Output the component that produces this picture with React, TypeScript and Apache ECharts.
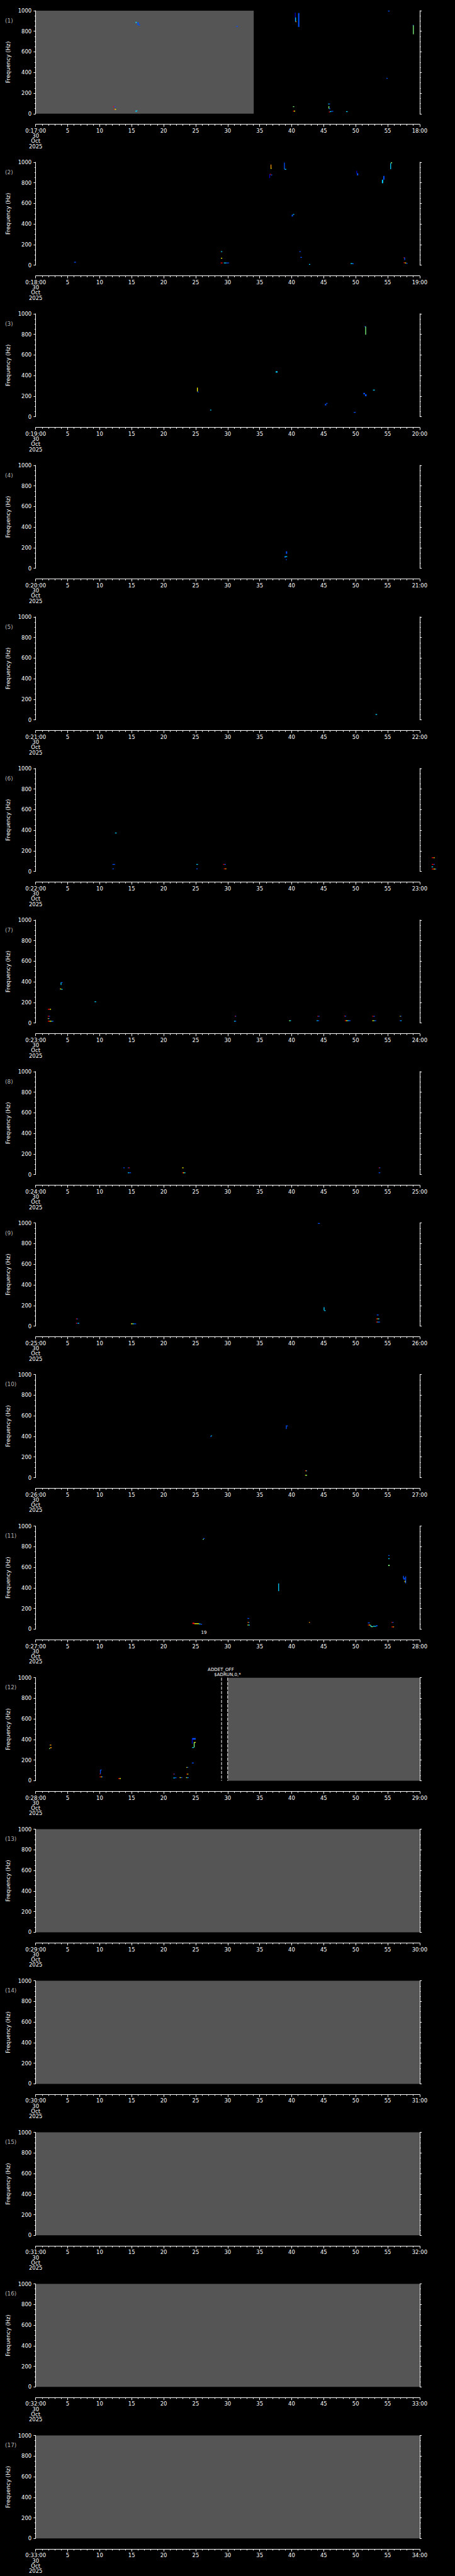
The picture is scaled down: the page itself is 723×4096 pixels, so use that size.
import React, { useEffect, useRef } from 'react';
import * as echarts from 'echarts';

// ---------- data ----------
const START_LABELS = ['0:17:00','0:18:00','0:19:00','0:20:00','0:21:00','0:22:00','0:23:00','0:24:00','0:25:00','0:26:00','0:27:00','0:28:00','0:29:00','0:30:00','0:31:00','0:32:00','0:33:00'];
const END_LABELS = ['18:00','19:00','20:00','21:00','22:00','23:00','24:00','25:00','26:00','27:00','28:00','29:00','30:00','31:00','32:00','33:00','34:00'];
const DATE_LINES = ['30', 'Oct', '2025'];
const PANEL_NAMES = ['(1)','(2)','(3)','(4)','(5)','(6)','(7)','(8)','(9)','(10)','(11)','(12)','(13)','(14)','(15)','(16)','(17)'];
const Y_TITLE = 'Frequency (Hz)';

// spectral patches: [minuteStart, minuteEnd, freqLow, freqHigh, colourKey]
type Ev = [number, number, number, number, string];
const P1: Ev[] = [
  [15.6,15.8,880,891,'c'],[15.9,16.1,859,888,'b'],[16.1,16.3,855,866,'b'],
  [31.35,31.6,846,851,'b'],
  [12.1,12.3,67,72,'r'],[12.3,12.5,67,72,'b'],
  [12.2,12.35,41,46,'r'],[12.35,12.55,41,46,'y'],
  [15.6,15.75,17,30,'c'],[15.75,15.9,27,32,'c'],
  [40.5,40.58,895,980,'B'],[40.55,40.65,895,934,'c'],[40.6,40.75,891,896,'o'],
  [41.0,41.2,842,977,'b'],
  [40.2,40.4,67,72,'g'],
  [40.2,40.35,24,29,'r'],[40.35,40.55,24,29,'y'],
  [45.7,45.85,93,98,'c'],[45.85,46.0,93,98,'b'],
  [45.75,45.85,49,73,'g'],[45.85,46.05,47,52,'b'],
  [45.8,45.95,15,20,'r'],[45.95,46.2,18,24,'c'],[46.2,46.5,22,27,'b'],
  [48.5,48.75,19,24,'c'],
  [55.05,55.3,995,1000,'b'],
  [54.8,55.0,342,347,'b'],
  [58.9,59.05,855,862,'b'],[58.95,59.05,770,858,'g'],
];
const P2: Ev[] = [
  [36.5,36.6,846,884,'B'],[36.6,36.75,880,887,'r'],[36.75,36.95,872,880,'b'],
  [36.7,36.78,941,977,'o'],[36.72,36.82,937,944,'y'],
  [38.8,38.9,932,996,'b'],[38.9,39.15,927,935,'c'],
  [40.0,40.2,473,490,'b'],[40.2,40.4,490,497,'c'],
  [50.1,50.2,890,917,'B'],[50.2,50.4,872,892,'b'],
  [54.1,54.3,796,830,'c'],[54.3,54.5,830,867,'b'],
  [55.4,55.5,932,990,'c'],[55.5,55.7,990,999,'g'],
  [28.95,29.15,130,136,'c'],
  [28.95,29.15,67,72,'y'],
  [28.9,29.2,21,26,'r'],[29.4,29.8,21,26,'c'],[29.8,30.2,21,26,'b'],
  [6.0,6.3,27,33,'b'],
  [41.2,41.4,130,136,'b'],
  [41.35,41.6,76,80,'b'],
  [42.7,42.9,8,12,'c'],
  [49.2,49.5,16,20,'c'],[49.5,49.7,13,19,'b'],
  [57.5,57.6,72,77,'r'],[57.6,57.7,50,75,'b'],
  [57.5,57.7,24,28,'r'],[57.7,57.9,21,26,'y'],[57.9,58.1,16,22,'b'],
];
const P3: Ev[] = [
  [51.4,51.5,870,881,'b'],[51.5,51.6,797,875,'g'],
  [37.5,37.8,429,442,'c'],
  [25.2,25.3,245,283,'y'],[25.3,25.45,238,244,'b'],
  [27.25,27.45,65,69,'c'],
  [45.2,45.4,110,125,'b'],[45.4,45.6,125,134,'b'],
  [51.2,51.45,218,232,'b'],[51.45,51.7,200,218,'b'],
  [52.7,53.0,259,263,'c'],
  [49.7,50.0,43,47,'b'],
];
const P4: Ev[] = [
  [39.1,39.3,141,165,'b'],[38.9,39.3,110,118,'c'],[38.9,39.0,102,112,'b'],[39.1,39.25,84,88,'b'],
];
const P5: Ev[] = [
  [53.1,53.35,52,56,'c'],
];
const P6: Ev[] = [
  [12.4,12.65,373,377,'c'],
  [12.0,12.4,68,72,'b'],
  [12.0,12.2,25,29,'b'],
  [25.1,25.35,68,72,'c'],
  [25.1,25.3,25,29,'b'],
  [29.3,29.5,68,72,'r'],[29.5,29.7,68,72,'b'],
  [29.4,29.6,25,29,'r'],[29.6,29.8,25,29,'o'],
  [61.9,62.2,133,137,'r'],[62.2,62.35,133,137,'y'],
  [61.9,62.2,68,72,'r'],[62.2,62.35,68,72,'b'],
  [61.85,62.1,44,48,'c'],
  [61.9,62.2,23,27,'r'],[62.2,62.45,23,27,'y'],[62.45,62.6,23,27,'b'],
];
const P7: Ev[] = [
  [1.9,2.2,133,137,'r'],[2.2,2.4,133,137,'y'],
  [1.9,2.1,65,69,'r'],[2.1,2.25,65,69,'b'],
  [1.9,2.05,43,47,'y'],[2.05,2.2,43,47,'b'],
  [1.9,2.15,17,21,'r'],[2.15,2.45,17,21,'y'],[2.45,2.6,17,21,'c'],[2.6,2.8,17,21,'b'],
  [3.9,4.0,369,394,'c'],[4.0,4.2,390,396,'b'],
  [3.8,4.0,329,334,'y'],[4.0,4.2,325,330,'c'],
  [9.2,9.45,206,210,'c'],
  [31.1,31.2,65,69,'r'],[31.2,31.3,65,69,'b'],
  [31.0,31.2,17,21,'c'],[31.2,31.3,17,21,'b'],
  [39.6,39.75,22,26,'g'],[39.75,39.9,22,26,'c'],
  [44.0,44.15,65,69,'r'],[44.15,44.35,65,69,'b'],
  [43.9,44.1,22,26,'c'],[44.1,44.3,22,26,'b'],
  [48.2,48.35,66,71,'r'],[48.35,48.5,66,70,'b'],
  [48.3,48.5,22,26,'r'],[48.5,48.7,22,26,'y'],[48.7,48.9,22,26,'c'],[48.9,49.2,22,26,'b'],
  [52.6,52.8,65,69,'r'],[52.8,53.0,65,69,'b'],
  [52.6,52.8,22,26,'y'],[52.8,52.95,22,26,'g'],[52.95,53.2,22,26,'b'],
  [56.9,57.0,65,69,'y'],[57.0,57.15,65,69,'b'],
  [56.9,57.05,22,26,'b'],[57.05,57.15,22,26,'c'],
];
const P8: Ev[] = [
  [13.7,13.9,65,69,'b'],
  [14.4,14.55,65,69,'b'],[14.55,14.7,65,69,'r'],
  [14.4,14.6,17,21,'c'],[14.6,14.9,17,21,'b'],
  [22.9,23.1,65,69,'y'],
  [22.9,23.05,17,21,'r'],[23.05,23.2,17,21,'y'],[23.2,23.4,17,21,'c'],
  [53.6,53.7,65,69,'r'],[53.7,53.85,65,69,'b'],
  [53.6,53.85,17,21,'b'],
];
const P9: Ev[] = [
  [44.1,44.4,994,1000,'b'],
  [45.0,45.1,151,183,'c'],[45.1,45.3,149,154,'c'],
  [6.3,6.45,70,74,'r'],[6.45,6.6,70,74,'b'],
  [6.3,6.45,27,31,'r'],[6.45,6.6,27,31,'b'],[6.6,6.8,27,31,'c'],
  [14.9,15.1,22,26,'y'],[15.1,15.25,22,26,'g'],[15.25,15.4,22,26,'c'],[15.4,15.7,22,26,'b'],
  [53.3,53.6,108,112,'b'],
  [53.2,53.4,70,74,'r'],[53.4,53.5,70,74,'y'],[53.5,53.7,70,74,'c'],
  [53.2,53.4,39,43,'r'],[53.4,53.55,39,43,'c'],[53.55,53.8,39,43,'b'],
];
const P10: Ev[] = [
  [27.3,27.4,394,405,'b'],[27.4,27.5,402,410,'c'],
  [39.1,39.2,471,506,'b'],[39.2,39.4,500,506,'b'],
  [42.1,42.2,66,70,'r'],[42.2,42.3,66,70,'y'],[42.3,42.4,66,70,'b'],
  [42.1,42.25,23,27,'y'],[42.25,42.4,23,27,'g'],
];
const P11: Ev[] = [
  [26.1,26.25,869,876,'g'],[26.2,26.4,876,884,'b'],
  [24.5,24.8,50,63,'r'],[24.8,25.5,53,57,'y'],[25.5,25.75,51,55,'c'],[25.75,26.0,48,52,'b'],
  [33.1,33.35,104,108,'b'],
  [33.1,33.2,66,70,'r'],[33.2,33.3,66,70,'y'],[33.3,33.4,66,70,'b'],
  [33.1,33.25,40,44,'y'],[33.25,33.45,40,44,'c'],
  [37.9,38.0,369,444,'c'],
  [42.7,42.85,66,70,'o'],
  [51.9,52.2,61,65,'b'],
  [51.9,52.1,40,44,'r'],[52.1,52.3,40,44,'y'],
  [52.3,52.45,24,39,'c'],[52.4,52.7,24,28,'g'],
  [52.7,53.2,27,32,'c'],[53.2,53.4,27,39,'b'],
  [55.1,55.3,715,719,'b'],
  [55.1,55.3,681,688,'c'],
  [55.1,55.3,613,625,'g'],
  [55.6,55.75,66,70,'r'],[55.75,55.9,66,70,'b'],
  [55.6,55.8,22,26,'r'],[55.8,56.0,22,26,'o'],
  [57.4,57.5,490,517,'b'],[57.5,57.7,480,500,'b'],[57.65,57.75,455,470,'y'],[57.75,57.85,445,512,'b'],
];
const P12: Ev[] = [
  [2.2,2.45,346,350,'o'],
  [2.1,2.25,309,316,'g'],[2.25,2.5,316,325,'o'],
  [10.05,10.15,65,106,'b'],[10.15,10.3,104,108,'b'],[10.0,10.1,62,68,'r'],
  [10.0,10.2,37,41,'r'],[10.2,10.35,37,41,'y'],[10.35,10.5,37,41,'b'],
  [12.9,13.1,21,25,'r'],[13.1,13.3,21,25,'y'],
  [21.5,21.6,64,68,'r'],[21.6,21.7,64,68,'b'],
  [21.5,21.75,27,31,'c'],[21.75,22.0,28,33,'b'],
  [22.5,22.7,30,34,'y'],[22.7,22.9,30,34,'b'],
  [23.5,23.65,30,34,'y'],[23.65,23.8,30,34,'c'],[23.8,23.9,30,34,'b'],
  [23.55,23.7,128,133,'y'],[23.7,23.85,128,133,'b'],
  [23.55,23.7,64,68,'r'],[23.7,23.85,64,68,'y'],
  [24.4,24.7,172,176,'b'],
  [24.4,24.5,359,414,'B'],[24.5,25.0,399,414,'b'],
  [24.45,24.7,320,326,'c'],[24.7,24.8,323,374,'g'],[24.8,25.0,372,376,'y'],
];
const PANEL_EVENTS: Ev[][] = [P1,P2,P3,P4,P5,P6,P7,P8,P9,P10,P11,P12,[],[],[],[],[]];

// no-data (grey) intervals in minutes, per panel
const NO_DATA: number[][][] = [
  [[0,34.07]],[],[],[],[],[],[],[],[],[],[],[[30.0,60]],
  [[0,60]],[[0,60]],[[0,60]],[[0,60]],[[0,60]],
];
// dashed markers (minutes), per panel
const MARKERS: number[][] = [[],[],[],[],[],[],[],[],[],[],[],[29.04,30.0],[],[],[],[],[]];
const NOTE_19 = '19';
const NOTE_DET = 'ADDET_OFF';
const NOTE_RUN = '$ADRUN,0,*';

const PAL_KEYS = ['B','b','c','g','y','o','r'];
const PAL = ['#0000c8','#0050ff','#00d0ff','#80ff80','#ffff00','#ff9900','#ff0000'];

// ---------- layout (reference px scaled) ----------
const S = 723 / 1024;
const PH = 5802 / 17;
const FONT = 'DejaVu Sans';

function buildOption() {
  const grid: any[] = [];
  const xAxis: any[] = [];
  const yAxis: any[] = [];
  const series: any[] = [];
  const graphic: any[] = [];
  const white = { color: '#ffffff', width: 1 };
  for (let i = 0; i < 17; i++) {
    const top = (i * PH + 24) * S;
    grid.push({ left: 80.3 * S, top, width: 864.2 * S, height: 232 * S });
    const startLbl = START_LABELS[i];
    const endLbl = END_LABELS[i];
    xAxis.push({
      type: 'value', gridIndex: i, min: 0, max: 60, interval: 5, position: 'bottom', offset: 24 * S, z: 5,
      axisLine: { show: true, onZero: false, lineStyle: white },
      axisTick: { show: true, length: 5.5 * S, lineStyle: white },
      minorTick: { show: true, splitNumber: 5, length: 3 * S, lineStyle: white },
      splitLine: { show: false },
      axisLabel: {
        color: '#fff', fontSize: 12 * S, fontFamily: FONT, margin: 6, lineHeight: 8.3,
        formatter: (v: number) => v === 0 ? [startLbl, ...DATE_LINES].join('\n') : v === 60 ? endLbl : String(v),
      },
    });
    yAxis.push({
      type: 'value', gridIndex: i, min: 0, max: 1000, interval: 200, position: 'left', z: 5,
      axisLine: { show: true, onZero: false, lineStyle: white },
      axisTick: { show: true, length: 4.7 * S, lineStyle: white },
      minorTick: { show: true, splitNumber: 4, length: 2.5 * S, lineStyle: white },
      splitLine: { show: false },
      axisLabel: { color: '#fff', fontSize: 12 * S, fontFamily: FONT, margin: 6.5, formatter: (v: number) => String(v) },
      name: Y_TITLE, nameLocation: 'middle', nameGap: 36,
      nameTextStyle: { color: '#fff', fontSize: 12.5 * S, fontFamily: FONT },
    });
    yAxis.push({
      type: 'value', gridIndex: i, min: 0, max: 1000, interval: 200, position: 'right', z: 5,
      axisLine: { show: true, onZero: false, lineStyle: white },
      axisTick: { show: true, length: 4.7 * S, lineStyle: white },
      minorTick: { show: true, splitNumber: 4, length: 2.5 * S, lineStyle: white },
      splitLine: { show: false },
      axisLabel: { show: false },
    });
    if (NO_DATA[i].length) {
      series.push({
        type: 'custom', xAxisIndex: i, yAxisIndex: 2 * i, clip: false, z: 1,
        data: NO_DATA[i],
        renderItem: (_p: any, api: any) => {
          const a = api.coord([api.value(0), 1000]);
          const b = api.coord([api.value(1), 0]);
          return { type: 'rect', shape: { x: a[0], y: a[1], width: b[0] - a[0], height: b[1] - a[1] }, style: { fill: '#555555' } };
        },
      });
    }
    if (PANEL_EVENTS[i].length) {
      series.push({
        type: 'custom', xAxisIndex: i, yAxisIndex: 2 * i, clip: false, z: 2,
        encode: { x: [0, 1], y: [2, 3] },
        data: PANEL_EVENTS[i].map(e => [e[0], e[1], e[2], e[3], PAL_KEYS.indexOf(e[4])]),
        renderItem: (_p: any, api: any) => {
          const a = api.coord([api.value(0), api.value(3)]);
          const b = api.coord([api.value(1), api.value(2)]);
          const w = Math.max(b[0] - a[0], 1.3);
          const h = Math.max(b[1] - a[1], 1.3);
          return { type: 'rect', shape: { x: a[0], y: a[1], width: w, height: h }, style: { fill: PAL[api.value(4)] } };
        },
      });
    }
    if (MARKERS[i].length) {
      series.push({
        type: 'custom', xAxisIndex: i, yAxisIndex: 2 * i, clip: false, z: 3,
        data: MARKERS[i].map(m => [m, 0]),
        renderItem: (_p: any, api: any) => {
          const a = api.coord([api.value(0), 1000]);
          const b = api.coord([api.value(0), 0]);
          return { type: 'line', shape: { x1: a[0], y1: a[1], x2: b[0], y2: b[1] }, style: { stroke: '#fff', lineWidth: 1, lineDash: [7 * S, 3 * S] } };
        },
      });
    }
    graphic.push({
      type: 'text', left: 11.5 * S, top: (i * PH + 40) * S,
      style: { text: PANEL_NAMES[i], fill: '#b4b4b4', fontSize: 12.5 * S, fontFamily: FONT },
    });
  }
  graphic.push({ type: 'text', x: 459 * S, y: 3676 * S, style: { text: NOTE_19, fill: '#fff', fontSize: 10 * S, fontFamily: FONT, textAlign: 'center', textVerticalAlign: 'middle' } });
  graphic.push({ type: 'text', x: 497 * S, y: 3759 * S, style: { text: NOTE_DET, fill: '#fff', fontSize: 10 * S, fontFamily: FONT, textAlign: 'center', textVerticalAlign: 'middle' } });
  graphic.push({ type: 'text', x: 512 * S, y: 3770.5 * S, style: { text: NOTE_RUN, fill: '#fff', fontSize: 10 * S, fontFamily: FONT, textAlign: 'center', textVerticalAlign: 'middle' } });

  return { animation: false, backgroundColor: '#000000', grid, xAxis, yAxis, series, graphic };
}

export default function App() {
  const ref = useRef<HTMLDivElement>(null);
  useEffect(() => {
    document.body.style.margin = '0';
    document.body.style.background = '#000';
    const chart = echarts.init(ref.current!, undefined, { renderer: 'svg' });
    chart.setOption(buildOption() as any);
    return () => chart.dispose();
  }, []);
  return <div ref={ref} style={{ width: 723, height: 4096, background: '#000' }} />;
}
